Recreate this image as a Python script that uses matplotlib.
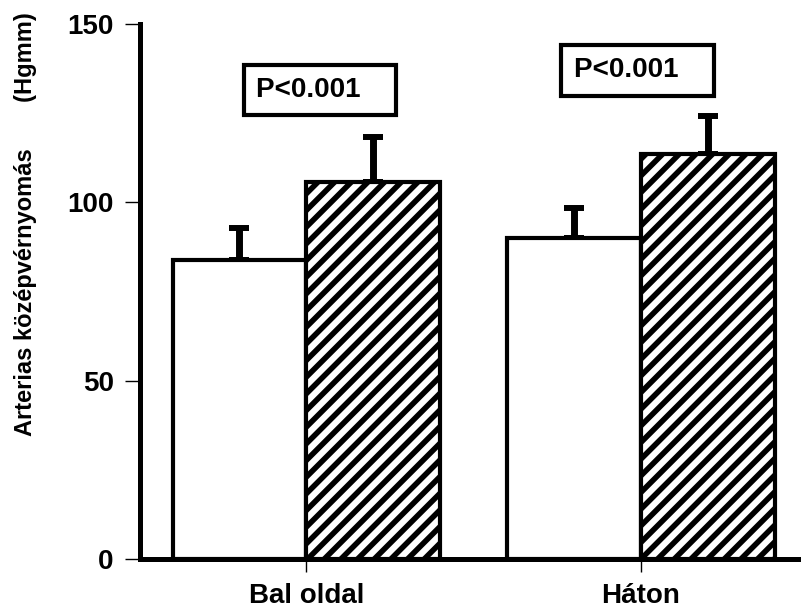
import matplotlib.pyplot as plt
import numpy as np

plt.rcParams['font.family'] = ['Liberation Sans', 'DejaVu Sans']
plt.rcParams['hatch.linewidth'] = 4

csoportok = ["Bal oldal", "Háton"]
elotte = [83.8, 90.0]
elotte_hiba = [9.0, 8.4]
utana = [105.7, 113.5]
utana_hiba = [12.6, 10.7]
p_szoveg = ["P<0.001", "P<0.001"]
p_hely = [(0.04, 131.5), (0.99, 137.0)]

fig = plt.figure(figsize=(8.01, 6.08), dpi=100)
ax = fig.add_axes([0.175, 0.0806, 0.825, 0.88])

xs = np.arange(len(csoportok))
w = 0.4
ax.bar(xs - w / 2, elotte, w, color="white", edgecolor="black", linewidth=3, zorder=2)
ax.bar(xs + w / 2, utana, w, color="white", edgecolor="black", linewidth=3,
       hatch="//", zorder=2)
hiba_stilus = dict(fmt="none", ecolor="black", elinewidth=5, capsize=7.2, capthick=4.3,
                   zorder=1)
ax.errorbar(xs - w / 2, elotte, yerr=[[0, 0], elotte_hiba], **hiba_stilus)
ax.errorbar(xs + w / 2, utana, yerr=[[0, 0], utana_hiba], **hiba_stilus)

for (px, py), s in zip(p_hely, p_szoveg):
    ax.text(px, py, s + "   ", ha="center", va="center", fontsize=20, fontweight="bold",
            bbox=dict(boxstyle="square,pad=0.44", facecolor="white", edgecolor="black",
                      linewidth=3))

ax.set_xlim(-0.497, 1.479)
ax.set_ylim(0, 150)
ax.set_yticks([0, 50, 100, 150])
ax.set_xticks(xs)
ax.set_xticklabels(csoportok, fontsize=20, fontweight="bold")
ax.tick_params(axis="y", labelsize=20, length=11, width=1, pad=8)
ax.tick_params(axis="x", length=9, width=1, pad=8)
for t in ax.get_yticklabels():
    t.set_fontweight("bold")

for side in ["top", "right"]:
    ax.spines[side].set_visible(False)
ax.spines["left"].set_linewidth(3.6)
ax.spines["bottom"].set_linewidth(3.6)

fig.text(0.032, 0.632, "Arterias középvérnyomás       (Hgmm)", rotation=90,
         ha="center", va="center", fontsize=17, fontweight="bold")

fig.savefig("out.png", dpi=100)
